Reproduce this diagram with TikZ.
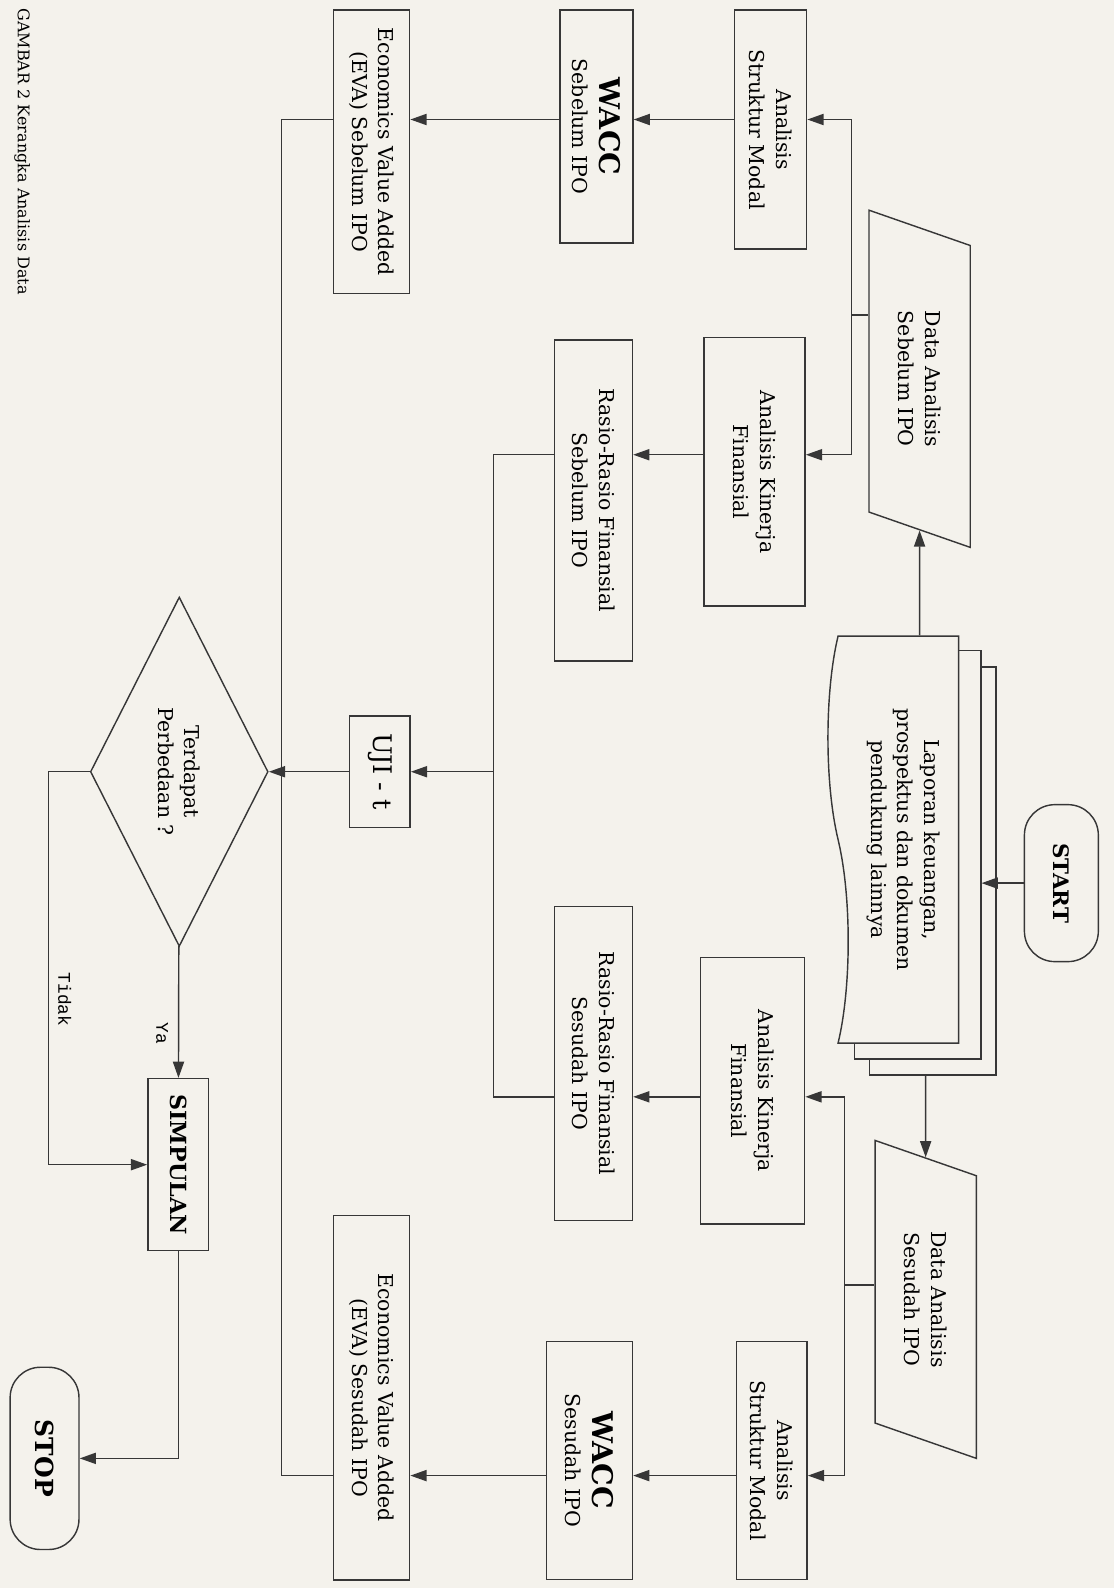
\documentclass[tikz,border=0pt]{standalone}
\usepackage{fontspec}
\setmainfont{DejaVu Serif}
\newfontfamily\labelfont{Liberation Mono}
\usetikzlibrary{shapes, arrows.meta}
\definecolor{paper}{RGB}{244,242,236}
\definecolor{ink}{RGB}{55,55,55}
\tikzstyle{line} = [line width=0.8pt, draw=ink]
\tikzstyle{arrow} = [line, -{Triangle[length=3.2mm, width=2.2mm]}]
\tikzstyle{terminal} = [rectangle, rounded corners=0.6cm, line, fill=paper, rotate=-90, font=\large\bfseries]
\tikzstyle{process} = [rectangle, line, fill=paper, rotate=-90, align=center, inner sep=2pt]
\tikzstyle{io} = [trapezium, trapezium left angle=57, trapezium right angle=123, trapezium stretches body, minimum height=2cm, line, fill=paper, rotate=-90, align=center]
\tikzstyle{decision} = [diamond, line, fill=paper, rotate=-90, align=center, inner sep=1pt]
\tikzstyle{docsheet} = [tape, tape bend top=none, tape bend bottom=in and out, tape bend height=0.4cm, minimum width=8.04cm, minimum height=2.58cm, line, fill=paper, rotate=-90, align=center]
\tikzstyle{backsheet} = [rectangle, minimum width=8.06cm, minimum height=2.5cm, line, fill=paper, rotate=-90]
\tikzstyle{lbl} = [rotate=-90, font=\labelfont\normalsize]

\begin{document}
\begin{tikzpicture}[x=0.02cm, y=-0.02cm, font=\fontsize{11.5}{15}\selectfont]
    \fill[paper] (0,0) rectangle (1100,1568);
    \useasboundingbox (0,0) rectangle (1100,1568);

    % Nodes
    \node (start) [terminal, minimum width=3.1cm, minimum height=1.46cm] at (1048, 872) {START};
    \node (docC) [backsheet] at (921, 860) {};
    \node (docB) [backsheet] at (906, 844) {};
    \node (docs) [docsheet] at (892, 829) {Laporan keuangan,\\ prospektus dan dokumen\\ pendukung lainnya};
    \node (dataA) [io, minimum width=6.66cm] at (908, 374) {Data Analisis\\ Sebelum IPO};
    \node (dataB) [io, minimum width=6.28cm] at (914, 1283) {Data Analisis\\ Sesudah IPO};

    \node (strA) [process, minimum width=4.72cm, minimum height=1.42cm] at (761, 128) {Analisis\\ Struktur Modal};
    \node (waccA) [process, minimum width=4.6cm, minimum height=1.44cm] at (589, 125) {{\fontsize{16}{17}\selectfont\bfseries WACC}\\ Sebelum IPO};
    \node (evaA) [process, minimum width=5.6cm, minimum height=1.5cm] at (367, 150) {Economics Value Added\\ (EVA) Sebelum IPO};
    \node (kinA) [process, minimum width=5.3cm, minimum height=2cm] at (745, 466) {Analisis Kinerja\\ Finansial};
    \node (rasA) [process, minimum width=6.34cm, minimum height=1.54cm] at (586, 494) {Rasio-Rasio Finansial\\ Sebelum IPO};
    \node (uji) [process, minimum width=2.2cm, minimum height=1.2cm, font=\Large] at (375, 762) {UJI - t};
    \node (kinB) [process, minimum width=5.26cm, minimum height=2.06cm] at (743, 1077) {Analisis Kinerja\\ Finansial};
    \node (rasB) [process, minimum width=6.2cm, minimum height=1.54cm] at (586, 1050) {Rasio-Rasio Finansial\\ Sesudah IPO};
    \node (strB) [process, minimum width=4.7cm, minimum height=1.4cm] at (762, 1442) {Analisis\\ Struktur Modal};
    \node (waccB) [process, minimum width=4.7cm, minimum height=1.7cm] at (582, 1442) {{\fontsize{16}{17}\selectfont\bfseries WACC}\\ Sesudah IPO};
    \node (evaB) [process, minimum width=7.2cm, minimum height=1.5cm] at (367, 1380) {Economics Value Added\\ (EVA) Sesudah IPO};
    \node (dec) [decision, minimum width=6.9cm, minimum height=3.22cm] at (177, 762) {Terdapat\\ Perbedaan ?};
    \node (simp) [process, minimum width=3.4cm, minimum height=1.2cm, font=\fontsize{12.5}{15}\selectfont\bfseries] at (176, 1150) {SIMPULAN};
    \node (stop) [terminal, minimum width=3.6cm, minimum height=1.36cm, font=\fontsize{14}{16}\selectfont\bfseries] at (44, 1440) {STOP};

    \node (caption) [rotate=-90, anchor=west, inner sep=0pt, font=\fontsize{9}{11}\selectfont] at (22, 8) {GAMBAR 2 Kerangka Analisis Data};
    \node (ya) [lbl] at (160, 1020) {Ya};
    \node (tidak) [lbl] at (64, 987) {Tidak};

    % Helper points
    \coordinate (busA) at (841, 311);
    \coordinate (busB) at (834, 1269);
    \coordinate (rowA) at (0, 118);
    \coordinate (rowB) at (0, 449);
    \coordinate (rowD) at (0, 1083);
    \coordinate (rowE) at (0, 1457);
    \coordinate (joinR) at (487, 762);
    \coordinate (joinE) at (278, 762);
    \coordinate (tidakC) at (48, 1150);

    % Arrows
    \draw [arrow] (start) -- (start -| docB.north);
    \draw [arrow] (dataA |- docs.west) -- (dataA);
    \draw [arrow] (dataB |- docC.east) -- (dataB);
    \draw [line] (busA) -- (busA -| dataA.south);
    \draw [arrow] (busA) |- (strA.north |- rowA);
    \draw [arrow] (busA) |- (kinA.north |- rowB);
    \draw [line] (busB) -- (busB -| dataB.south);
    \draw [arrow] (busB) |- (kinB.north |- rowD);
    \draw [arrow] (busB) |- (strB.north |- rowE);
    \draw [arrow] (strA.south |- rowA) -- (waccA.north |- rowA);
    \draw [arrow] (waccA.south |- rowA) -- (evaA.north |- rowA);
    \draw [arrow] (kinA.south |- rowB) -- (rasA.north |- rowB);
    \draw [arrow] (kinB.south |- rowD) -- (rasB.north |- rowD);
    \draw [arrow] (strB.south |- rowE) -- (waccB.north |- rowE);
    \draw [arrow] (waccB.south |- rowE) -- (evaB.north |- rowE);
    \draw [line] (rasA.south |- rowB) -| (joinR) |- (rasB.south |- rowD);
    \draw [arrow] (joinR) -- (uji);
    \draw [line] (evaA.south |- rowA) -| (joinE) |- (evaB.south |- rowE);
    \draw [arrow] (uji) -- (dec);
    \draw [arrow] (dec) -- (simp);
    \draw [arrow] (dec.south) -| (tidakC) -- (simp);
    \draw [arrow] (simp.east) |- (stop.north);

\end{tikzpicture}
\end{document}
